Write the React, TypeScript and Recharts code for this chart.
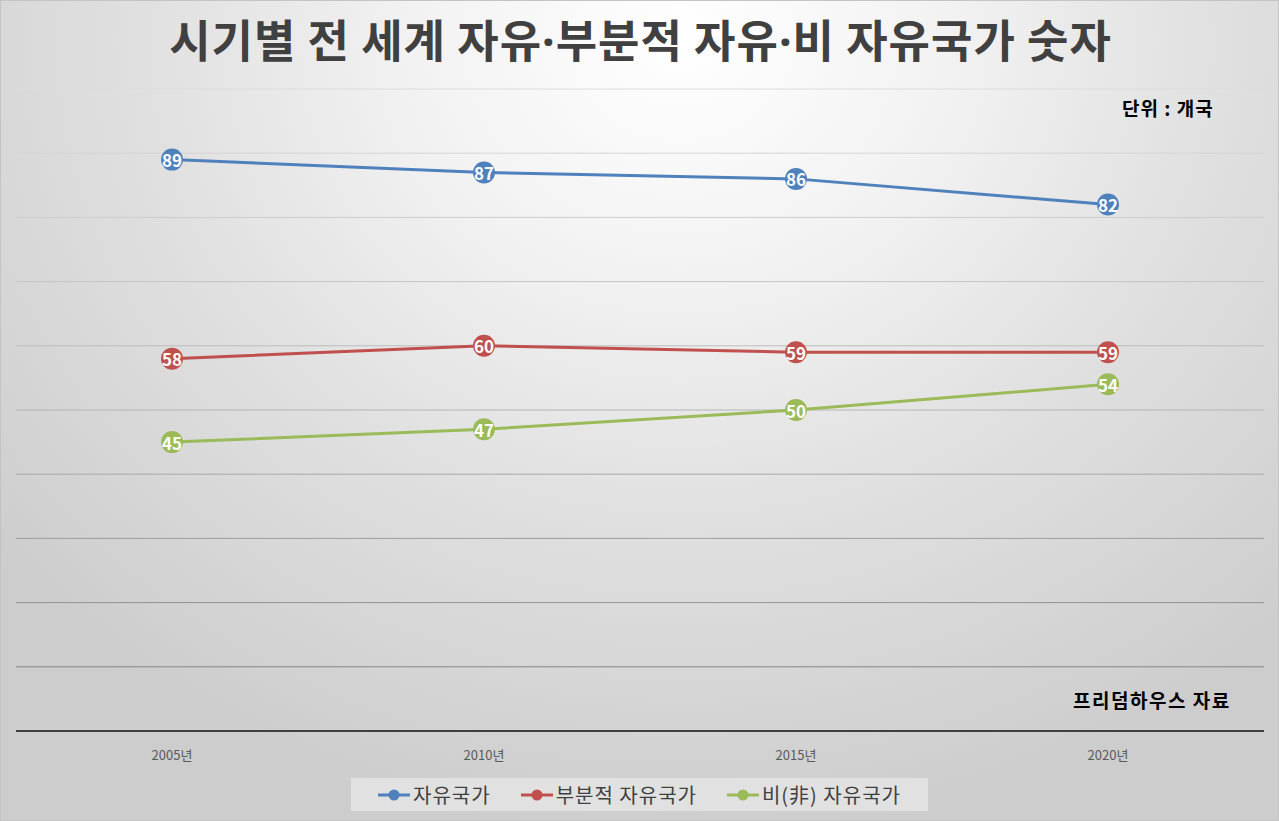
import React from "react";
import { LineChart, Line, XAxis, YAxis, CartesianGrid, LabelList } from "recharts";

const categories = ["2005년", "2010년", "2015년", "2020년"];
const freeValues = [89, 87, 86, 82];
const partlyFreeValues = [58, 60, 59, 59];
const notFreeValues = [45, 47, 50, 54];
const yTicks = [0, 10, 20, 30, 40, 50, 60, 70, 80, 90, 100];

const seriesInfo = [
  { key: "free", name: "자유국가", color: "#4f81bd" },
  { key: "partly", name: "부분적 자유국가", color: "#c0504d" },
  { key: "notFree", name: "비(非) 자유국가", color: "#9bbb59" },
];

const titleParts = ["시기별 전 세계 자유", "부분적 자유", "비 자유국가 숫자"];

const data = categories.map((c, i) => ({
  year: c,
  free: freeValues[i],
  partly: partlyFreeValues[i],
  notFree: notFreeValues[i],
}));

const FONT = "'Noto Sans CJK KR', 'Noto Sans', sans-serif";

const renderLabel = (props: any) => {
  const { x, y, value } = props;
  return (
    <text
      x={x}
      y={y}
      textAnchor="middle"
      dominantBaseline="central"
      fill="#ffffff"
      fontSize={17}
      fontWeight="bold"
      fontFamily={FONT}
    >
      {value}
    </text>
  );
};

export default function App() {
  return (
    <div
      style={{
        position: "absolute",
        left: 0,
        top: 0,
        width: 1279,
        height: 821,
        background:
          "radial-gradient(ellipse 900px 800px at 680px 40px, #ffffff 0%, #f2f2f2 30%, #e0e0e0 60%, #cdcdcd 100%)",
        boxSizing: "border-box",
        border: "1px solid #c4c4c4",
        fontFamily: FONT,
        overflow: "hidden",
      }}
    >
      <div
        style={{
          position: "absolute",
          left: 0,
          top: 8,
          width: 1279,
          textAlign: "center",
          fontSize: 45,
          fontWeight: "bold",
          color: "#404040",
          lineHeight: "60px",
          letterSpacing: 1,
          whiteSpace: "nowrap",
        }}
      >
        {titleParts.map((p, i) => (
          <React.Fragment key={i}>
            {i > 0 && <span style={{ fontFamily: "'Noto Sans', sans-serif" }}>·</span>}
            {p}
          </React.Fragment>
        ))}
      </div>
      <div
        style={{
          position: "absolute",
          left: 1121,
          top: 94,
          fontSize: 19,
          fontWeight: "bold",
          color: "#000000",
          lineHeight: "26px",
          whiteSpace: "nowrap",
          letterSpacing: 1,
        }}
      >
        단위 : 개국
      </div>
      <div
        style={{
          position: "absolute",
          left: 1072,
          top: 686,
          fontSize: 19,
          fontWeight: "bold",
          color: "#000000",
          lineHeight: "26px",
          whiteSpace: "nowrap",
          letterSpacing: 1.5,
        }}
      >
        프리덤하우스 자료
      </div>
      <div style={{ position: "absolute", left: -1, top: -1 }}>
        <LineChart
          width={1279}
          height={821}
          data={data}
          margin={{ top: 89, right: 15, bottom: 60, left: 16 }}
        >
          <defs>
            <linearGradient id="gridGrad" gradientUnits="userSpaceOnUse" x1={0} y1={89} x2={0} y2={731}>
              <stop offset="0%" stopColor="#dcdcdc" />
              <stop offset="50%" stopColor="#b4b4b4" />
              <stop offset="100%" stopColor="#7a7a7a" />
            </linearGradient>
          </defs>
          <CartesianGrid vertical={false} stroke="url(#gridGrad)" strokeWidth={1} />
          <XAxis
            dataKey="year"
            height={30}
            axisLine={{ stroke: "#404040", strokeWidth: 2 }}
            tickLine={false}
            tick={{ fill: "#595959", fontSize: 13, fontFamily: FONT }}
            tickMargin={14}
            padding={{ left: 156, right: 156 }}
          />
          <YAxis hide domain={[0, 100]} ticks={yTicks} />
          {seriesInfo.map((s) => (
            <Line
              key={s.key}
              type="linear"
              dataKey={s.key}
              name={s.name}
              stroke={s.color}
              strokeWidth={3}
              dot={{ r: 11, fill: s.color, stroke: s.color, strokeWidth: 0 }}
              activeDot={false}
              isAnimationActive={false}
            >
              <LabelList dataKey={s.key} content={renderLabel} />
            </Line>
          ))}
        </LineChart>
      </div>
      <div
        style={{
          position: "absolute",
          left: 350,
          top: 777,
          width: 577,
          height: 33,
          background: "#e1e1e1",
          display: "flex",
          alignItems: "center",
          justifyContent: "center",
          fontSize: 20,
          color: "#404040",
          letterSpacing: 1,
          whiteSpace: "nowrap",
        }}
      >
        {seriesInfo.map((s, i) => (
          <div key={s.key} style={{ display: "flex", alignItems: "center", marginLeft: i === 0 ? 0 : 30 }}>
            <svg width={32} height={14} style={{ marginRight: 3 }}>
              <line x1={0} y1={7} x2={32} y2={7} stroke={s.color} strokeWidth={3} />
              <circle cx={16} cy={7} r={5.5} fill={s.color} />
            </svg>
            <span>{s.name}</span>
          </div>
        ))}
      </div>
    </div>
  );
}
